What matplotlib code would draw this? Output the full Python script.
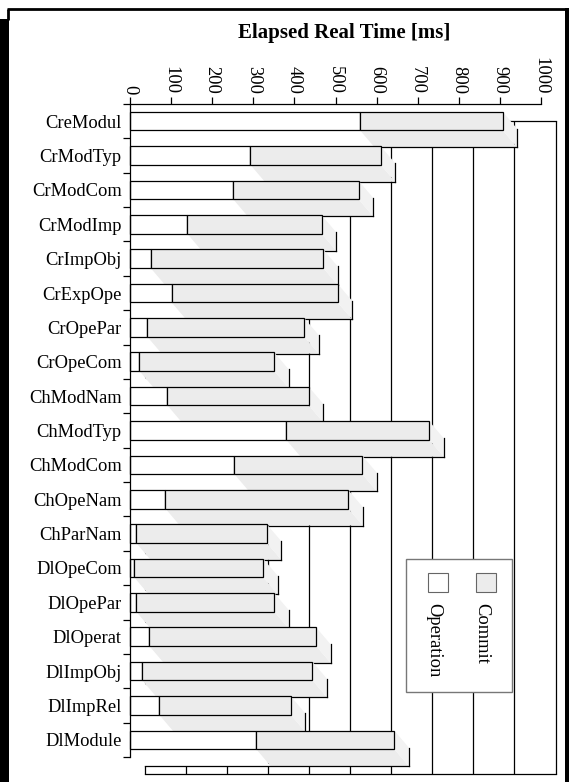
import numpy as np
import matplotlib
matplotlib.use("Agg")
import matplotlib.pyplot as plt
from matplotlib.patches import Polygon, Rectangle
from matplotlib.lines import Line2D

plt.rcParams['font.family'] = ['Liberation Serif', 'DejaVu Serif']

categories = ["CreModul", "CrModTyp", "CrModCom", "CrModImp", "CrImpObj",
              "CrExpOpe", "CrOpePar", "CrOpeCom", "ChModNam", "ChModTyp",
              "ChModCom", "ChOpeNam", "ChParNam", "DlOpeCom", "DlOpePar",
              "DlOperat", "DlImpObj", "DlImpRel", "DlModule"]
operation_ms = [560, 293, 251, 139, 50, 101, 42, 23, 91, 380,
                254, 86, 15, 10, 15, 47, 30, 71, 307]
commit_ms = [347, 317, 305, 327, 420, 404, 382, 328, 344, 348,
             311, 445, 318, 314, 336, 406, 414, 320, 336]
x_ticks = [0, 100, 200, 300, 400, 500, 600, 700, 800, 900, 1000]

W, H = 575, 782
fig = plt.figure(figsize=(W / 100, H / 100), dpi=100)


def fx(px):
    return px / W


def fy(py):
    return 1 - py / H


GRAY = '#ececec'
SIDE = '#f2f2f2'
LW = 0.9
FS = 13.3

ax = fig.add_axes([fx(130), fy(757), fx(541) - fx(130), fy(104) - fy(757)])
n = len(categories)
ax.set_xlim(0, 1000)
ax.set_ylim(n - 0.5, -0.5)
ax.set_facecolor('none')

# depth of the pseudo-3D boxes, converted from screen offset to data units
inv = ax.transData.inverted()
origin = ax.transData.transform((0, 0))
dxd, dyd = inv.transform(origin + np.array([14.5, -17.0])) - inv.transform(origin)

# back wall: grid lines, top and bottom edges
for v in x_ticks:
    ax.plot([v + dxd, v + dxd], [-0.5 + dyd, n - 0.5 + dyd], color='black',
            lw=LW, clip_on=False, zorder=1, solid_capstyle='butt')
ax.plot([dxd, 1000 + dxd], [n - 0.5 + dyd] * 2, color='black', lw=LW,
        clip_on=False, zorder=1)
ax.plot([dxd, 1000 + dxd], [-0.5 + dyd] * 2, color='black', lw=LW,
        clip_on=False, zorder=1)

half = 0.27
for i in range(n):
    op = operation_ms[i]
    tot = op + commit_ms[i]
    yt, yb = i - half, i + half
    # bottom faces
    ax.add_patch(Polygon([(0, yb), (op, yb), (op + dxd, yb + dyd), (dxd, yb + dyd)],
                         closed=True, fc='white', ec='none', clip_on=False, zorder=2))
    ax.add_patch(Polygon([(op, yb), (tot, yb), (tot + dxd, yb + dyd), (op + dxd, yb + dyd)],
                         closed=True, fc=GRAY, ec='none', clip_on=False, zorder=2))
    # right face
    ax.add_patch(Polygon([(tot, yt), (tot + dxd, yt + dyd), (tot + dxd, yb + dyd), (tot, yb)],
                         closed=True, fc=SIDE, ec='none', clip_on=False, zorder=2))
    # back edges
    ax.plot([tot + dxd, tot + dxd], [yt + dyd, yb + dyd], color='black', lw=LW,
            clip_on=False, zorder=2)
    ax.plot([dxd, tot + dxd], [yb + dyd, yb + dyd], color='black', lw=LW,
            clip_on=False, zorder=2)
    # front faces
    ax.barh(i, op, height=2 * half, color='white', edgecolor='black', lw=LW,
            clip_on=False, zorder=2)
    ax.barh(i, commit_ms[i], left=op, height=2 * half, color=GRAY,
            edgecolor='black', lw=LW, clip_on=False, zorder=2)

# axes styling
for s in ('right', 'bottom'):
    ax.spines[s].set_visible(False)
for s in ('left', 'top'):
    ax.spines[s].set_linewidth(LW)
    ax.spines[s].set_zorder(3)

ax.xaxis.set_ticks_position('top')
ax.set_xticks(x_ticks)
ax.set_xticklabels([str(v) for v in x_ticks])
ax.tick_params(axis='x', direction='out', length=5, width=LW, pad=2,
               labelsize=FS, labelrotation=270, top=True, bottom=False,
               labeltop=True, labelbottom=False)

ax.set_yticks(range(n))
ax.set_yticklabels(categories)
ax.set_yticks(np.arange(-0.5, n, 1.0), minor=True)
ax.tick_params(axis='y', which='major', length=0, pad=6, labelsize=FS)
ax.tick_params(axis='y', which='minor', length=5, width=LW, direction='out')

fig.text(fx(344), fy(33), 'Elapsed Real Time [ms]', ha='center', va='center',
         fontsize=15, fontweight='bold')

# legend with vertical entries
fig.add_artist(Rectangle((fx(405.7), fy(692.3)), fx(512.3) - fx(405.7),
                         fy(559) - fy(692.3), transform=fig.transFigure,
                         fc='white', ec='#777777', lw=1.0, zorder=5))
legend_items = [('Operation', 'white', 438), ('Commit', GRAY, 486)]
for label, col, cx in legend_items:
    fig.add_artist(Rectangle((fx(cx - 10), fy(592)), fx(20), fy(573) - fy(592),
                             transform=fig.transFigure, fc=col, ec='#666666',
                             lw=0.8, zorder=6))
    fig.text(fx(cx - 4), fy(603), label, rotation=270, ha='center', va='top',
             fontsize=FS, zorder=6)

# outer frame with heavy side bands
fig.add_artist(Line2D([fx(7), fx(568)], [fy(9), fy(9)], transform=fig.transFigure,
                      color='black', lw=2, solid_capstyle='butt'))
fig.add_artist(Line2D([fx(8), fx(8)], [fy(9), fy(20)], transform=fig.transFigure,
                      color='black', lw=2, solid_capstyle='butt'))
fig.add_artist(Rectangle((0, 0), fx(8.5), fy(19), transform=fig.transFigure,
                         fc='black', ec='none'))
fig.add_artist(Rectangle((fx(565), 0), fx(4), fy(8), transform=fig.transFigure,
                         fc='black', ec='none'))

fig.savefig('out.png', dpi=100)
